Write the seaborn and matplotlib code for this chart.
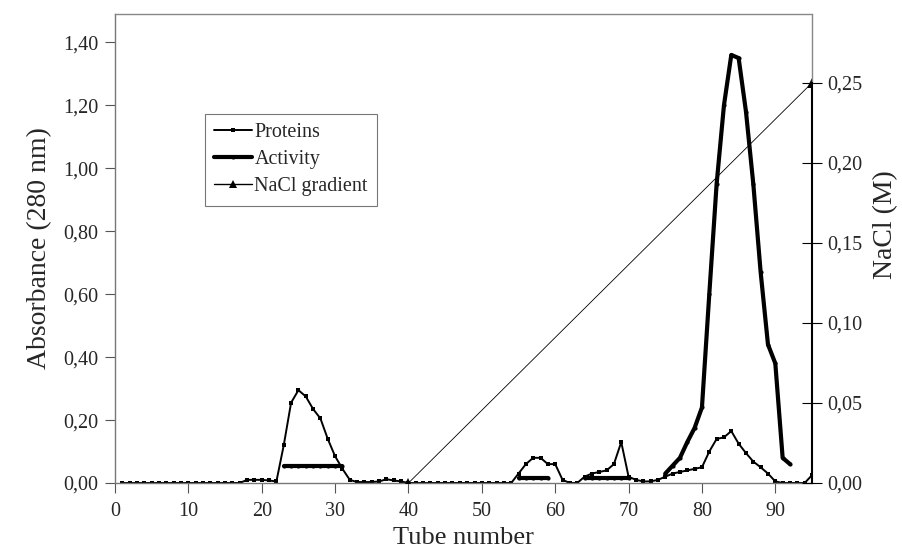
import numpy as np
import pandas as pd
import matplotlib
matplotlib.use("Agg")
import matplotlib.pyplot as plt
from matplotlib.lines import Line2D
from matplotlib.ticker import FuncFormatter, MultipleLocator
import seaborn as sns

# ---------------- data ----------------
tubes = list(range(1, 96))
proteins = [
    0.0, 0.0, 0.0, 0.0, 0.0, 0.0, 0.0, 0.0, 0.0, 0.0,          # 1-10
    0.0, 0.0, 0.0, 0.0, 0.0, 0.0, 0.0, 0.01, 0.01, 0.01,       # 11-20
    0.008, 0.005, 0.12, 0.255, 0.295, 0.275, 0.235, 0.205, 0.14, 0.085,  # 21-30
    0.045, 0.01, 0.003, 0.003, 0.003, 0.005, 0.012, 0.008, 0.005, 0.0,   # 31-40
    0.0, 0.0, 0.0, 0.0, 0.0, 0.0, 0.0, 0.0, 0.0, 0.0,          # 41-50
    0.0, 0.0, 0.0, 0.0, 0.03, 0.06, 0.08, 0.08, 0.06, 0.06,    # 51-60
    0.01, 0.0, 0.0, 0.02, 0.03, 0.035, 0.04, 0.06, 0.13, 0.02, # 61-70
    0.01, 0.005, 0.005, 0.01, 0.02, 0.03, 0.035, 0.04, 0.045, 0.05,  # 71-80
    0.10, 0.14, 0.145, 0.165, 0.125, 0.095, 0.068, 0.05, 0.03, 0.005,  # 81-90
    0.0, 0.0, 0.0, 0.0, 0.025,                                  # 91-95
]

# activity measured only on some fractions (separate segments)
act_seg1_tubes = [23, 24, 25, 26, 27, 28, 29, 30, 31]
act_seg1_vals = [0.055] * 9
act_seg2_tubes = [55, 56, 57, 58, 59]
act_seg2_vals = [0.015] * 5
act_seg3_tubes = [64, 65, 66, 67, 68, 69, 70]
act_seg3_vals = [0.015] * 7
act_seg4_tubes = list(range(75, 93))
act_seg4_vals = [0.03, 0.055, 0.08, 0.13, 0.175, 0.24, 0.60, 0.95, 1.20, 1.36,
                 1.35, 1.18, 0.95, 0.67, 0.44, 0.38, 0.08, 0.06]

nacl_tubes = [40, 95]
nacl_vals = [0.0, 0.25]

x_ticks = [0, 10, 20, 30, 40, 50, 60, 70, 80, 90]

# ---------------- frames ----------------
df_prot = pd.DataFrame({"tube": tubes, "value": proteins})
segs = [(act_seg1_tubes, act_seg1_vals), (act_seg2_tubes, act_seg2_vals),
        (act_seg3_tubes, act_seg3_vals), (act_seg4_tubes, act_seg4_vals)]
df_act = pd.concat([pd.DataFrame({"tube": t, "value": v, "segment": i})
                    for i, (t, v) in enumerate(segs)], ignore_index=True)
df_nacl = pd.DataFrame({"tube": nacl_tubes, "value": nacl_vals})

# ---------------- style ----------------
sns.set_theme(style="white")
plt.rcParams["font.family"] = ["Liberation Serif", "DejaVu Serif"]

fig = plt.figure(figsize=(9.03, 5.59), dpi=100)
ax = fig.add_axes([115 / 903, 1 - 483 / 559, 697 / 903, 469 / 559])
ax2 = ax.twinx()

sns.lineplot(data=df_prot, x="tube", y="value", ax=ax, color="black",
             linewidth=1.4, marker="s", markersize=3, markeredgewidth=0,
             estimator=None)
sns.lineplot(data=df_act, x="tube", y="value", units="segment", ax=ax,
             color="black", linewidth=3.0, marker="o", markersize=3,
             markeredgewidth=0, estimator=None)
sns.lineplot(data=df_nacl, x="tube", y="value", ax=ax2, color="black",
             linewidth=0.6, marker="^", markersize=7, markeredgewidth=0,
             estimator=None)

fmt = FuncFormatter(lambda v, p: f"{v:.2f}".replace(".", ","))
ax.yaxis.set_major_locator(MultipleLocator(0.2))
ax.yaxis.set_major_formatter(fmt)
ax2.yaxis.set_major_locator(MultipleLocator(0.05))
ax2.yaxis.set_major_formatter(fmt)
ax.set_xticks(x_ticks)
ax.set_xticklabels([str(t) for t in x_ticks])
ax.set_xlim(0, 95)
ax.set_ylim(0, 1.49)
ax2.set_ylim(0, 0.293)

ax.tick_params(axis="x", direction="out", length=7, width=0.8, color="#555555",
               labelsize=14.5, pad=7, bottom=True)
ax.tick_params(axis="y", direction="out", length=7, width=0.8, color="#555555",
               labelsize=14.5, pad=5, left=True)
ax2.tick_params(axis="y", direction="inout", length=14, width=0.8, color="black",
                labelsize=14.5, pad=4, right=True)

ax.set_xlabel("Tube number", fontsize=19, labelpad=4)
ax.set_ylabel("Absorbance (280 nm)", fontsize=20, labelpad=8)
ax2.set_ylabel("NaCl (M)", fontsize=20)
ax2.yaxis.set_label_coords(1.088, 0.55)

for a in (ax, ax2):
    for s in a.spines.values():
        s.set_visible(False)
ax.spines["left"].set_visible(True)
ax.spines["left"].set_color("#777777")
ax.spines["left"].set_linewidth(1.0)
ax.spines["top"].set_visible(True)
ax.spines["top"].set_color("#888888")
ax.spines["top"].set_linewidth(1.0)
ax.spines["bottom"].set_visible(True)
ax.spines["bottom"].set_color("#777777")
ax.spines["bottom"].set_linewidth(1.0)
ax2.spines["right"].set_visible(True)
ax2.spines["right"].set_color("black")
ax2.spines["right"].set_linewidth(1.5)
ax2.spines["right"].set_bounds(0, 0.25)
# upper part of the right frame (grey)
ax2.plot([1, 1], [0.25 / 0.293, 1], transform=ax2.transAxes, color="#888888",
         lw=1.0, clip_on=False)

for a in (ax, ax2):
    if a.get_legend() is not None:
        a.get_legend().remove()

handles = [
    Line2D([], [], color="black", lw=1.4, marker="s", markersize=3, markeredgewidth=0),
    Line2D([], [], color="black", lw=3.0, marker="o", markersize=3, markeredgewidth=0),
    Line2D([], [], color="black", lw=1.0, marker="^", markersize=6, markeredgewidth=0),
]
labels = ["Proteins", "Activity", "NaCl gradient"]
leg = fig.legend(handles, labels, loc="upper left",
                 bbox_to_anchor=(205 / 903, 1 - 114 / 559),
                 bbox_transform=fig.transFigure, fontsize=14.5, frameon=True,
                 fancybox=False, edgecolor="#555555", handlelength=1.9,
                 handletextpad=0.1, labelspacing=0.4, borderpad=0.45,
                 borderaxespad=0)
leg.get_frame().set_linewidth(0.8)

fig.savefig("out.png", dpi=100)
